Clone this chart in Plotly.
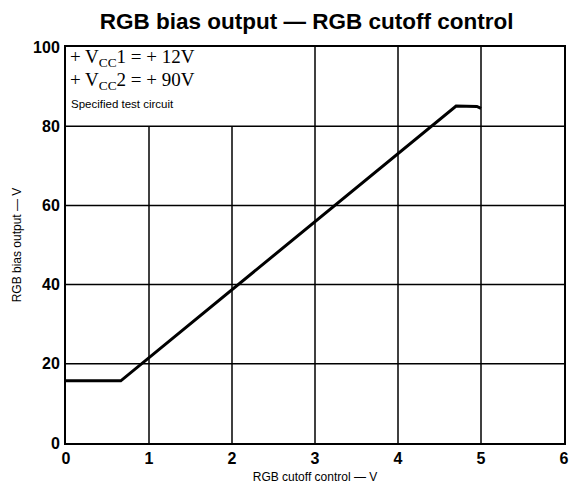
import plotly.graph_objects as go

# Data
cutoff_v = [0.0, 0.66, 4.70, 4.95, 5.00]
bias_v = [15.7, 15.7, 85.1, 85.0, 84.5]

x_ticks = [0, 1, 2, 3, 4, 5, 6]
y_ticks = [0, 20, 40, 60, 80, 100]

fig = go.Figure()
fig.add_trace(go.Scatter(x=cutoff_v, y=bias_v, mode="lines",
                         line=dict(color="black", width=3), showlegend=False))

shapes = []
for xv in [1, 2]:
    shapes.append(dict(type="line", x0=xv, x1=xv, y0=0, y1=80, xref="x", yref="y",
                       line=dict(color="black", width=1.5), layer="below"))
for xv in [3, 4, 5]:
    shapes.append(dict(type="line", x0=xv, x1=xv, y0=0, y1=100, xref="x", yref="y",
                       line=dict(color="black", width=1.5), layer="below"))
for yv in [20, 40, 60, 80]:
    shapes.append(dict(type="line", x0=0, x1=6, y0=yv, y1=yv, xref="x", yref="y",
                       line=dict(color="black", width=1.5), layer="below"))

fig.update_layout(
    width=571, height=497,
    margin=dict(l=66, r=7, t=47, b=54),
    paper_bgcolor="white", plot_bgcolor="white",
    shapes=shapes,
    title=dict(text="<b>RGB bias output — RGB cutoff control</b>",
               x=0.537, xanchor="center", y=0.958, yanchor="middle",
               font=dict(family="Liberation Sans, Arial", size=22.5, color="black")),
    xaxis=dict(range=[0, 6], tickvals=x_ticks, ticktext=[f"<b>{v}</b>" for v in x_ticks],
               showgrid=False, zeroline=False, showline=True, linecolor="black",
               linewidth=2, mirror=True, ticks="", ticklen=0, automargin=False,
               tickfont=dict(family="Liberation Sans, Arial", size=16, color="black"),
               title=dict(text="RGB cutoff control — V", standoff=6,
                          font=dict(family="Liberation Sans, Arial", size=12, color="black"))),
    yaxis=dict(range=[0, 100], tickvals=y_ticks, ticktext=[f"<b>{v}</b>" for v in y_ticks],
               showgrid=False, zeroline=False, showline=True, linecolor="black",
               linewidth=2, mirror=True, ticks="", ticklen=0, ticklabelstandoff=1,
               automargin=False,
               tickfont=dict(family="Liberation Sans, Arial", size=16, color="black"),
               title=dict(text="RGB bias output — V", standoff=9,
                          font=dict(family="Liberation Sans, Arial", size=12, color="black"))),
)

serif = dict(family="Liberation Serif, Times New Roman", size=19, color="black")
fig.add_annotation(x=0.02, y=97.1, xref="x", yref="y", xanchor="left", yanchor="middle",
                   text="+ V<sub>CC</sub>1 = + 12V", showarrow=False, font=serif)
fig.add_annotation(x=0.02, y=91.4, xref="x", yref="y", xanchor="left", yanchor="middle",
                   text="+ V<sub>CC</sub>2 = + 90V", showarrow=False, font=serif)
fig.add_annotation(x=0.04, y=85.6, xref="x", yref="y", xanchor="left", yanchor="middle",
                   text="Specified test circuit", showarrow=False,
                   font=dict(family="Liberation Sans, Arial", size=11.5, color="black"))

fig.write_html("out.html", config={"displayModeBar": False},
               post_script="document.body.style.margin='0px';")
